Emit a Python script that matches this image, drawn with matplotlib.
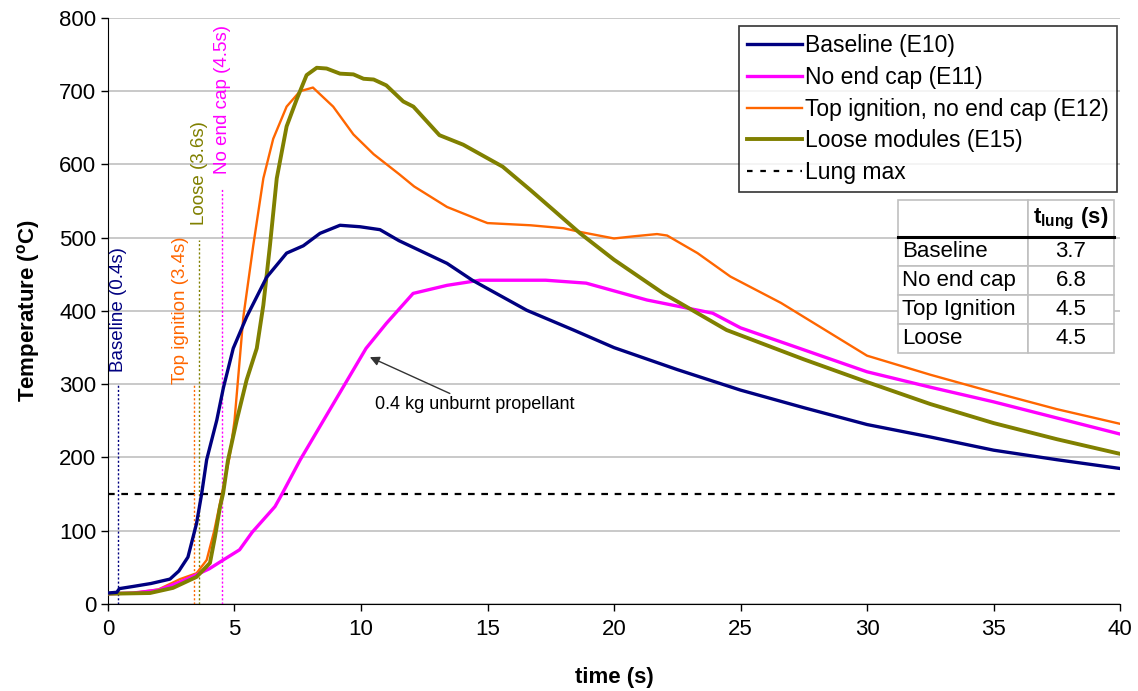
import matplotlib.pyplot as plt
import numpy as np

plt.rcParams['font.family'] = ['Liberation Sans', 'DejaVu Sans']
plt.rcParams['mathtext.fontset'] = 'custom'
plt.rcParams['mathtext.rm'] = 'Liberation Sans'
plt.rcParams['mathtext.bf'] = 'Liberation Sans:bold'

# ---------- data (time in s, temperature in degC) ----------
t_base = [0, 0.35, 0.45, 1.0, 1.7, 2.45, 2.8, 3.16, 3.5, 3.7, 3.9, 4.3, 4.56, 4.95, 5.48, 6.27,
          7.06, 7.72, 8.38, 9.17, 9.96, 10.75, 11.5, 13.4, 14.4, 16.55, 18.4, 20, 22.5, 25,
          27.5, 30, 32.5, 35, 37.5, 40]
T_base = [15, 16, 21, 24, 28, 34, 45, 64, 110, 150, 197, 251, 295, 349, 392, 446,
          479, 489, 506, 517, 515, 511, 496, 465, 442, 401, 374, 350, 320, 292,
          268, 245, 228, 210, 197, 185]

t_noend = [0, 1.0, 2.0, 2.85, 3.5, 4.0, 4.55, 5.2, 5.7, 6.6, 6.86, 7.6, 8.9, 10.2, 11.0, 12.06,
           13.4, 14.7, 17.3, 18.9, 21.3, 23.9, 25, 27.5, 30, 32.5, 35, 37.5, 40]
T_noend = [14, 15, 19, 30, 40, 48, 60, 74, 98, 133, 149, 197, 273, 349, 383, 424,
           435, 442, 442, 438, 415, 397, 377, 347, 317, 296, 276, 254, 232]

t_top = [0, 1.0, 2.0, 2.85, 3.5, 3.9, 4.2, 4.5, 4.8, 5.0, 5.35, 5.74, 6.14, 6.53, 7.06, 7.59,
         8.1, 8.9, 9.7, 10.5, 11.5, 12.1, 13.4, 14.7, 15.0, 16.7, 18.0, 18.65, 20.0, 20.8,
         21.7, 22.1, 23.3, 24.6, 26.6, 30, 32.5, 35, 37.5, 40]
T_top = [14, 15, 20, 34, 42, 60, 100, 150, 200, 250, 392, 489, 581, 635, 679, 700,
         705, 679, 641, 614, 587, 570, 542, 524, 520, 517, 513, 508, 499, 502,
         505, 503, 479, 447, 411, 339, 313, 289, 266, 246]

t_loose = [0, 1.66, 2.57, 3.5, 4.03, 4.23, 4.43, 4.55, 4.74, 5.09, 5.48, 5.88, 6.14, 6.4, 6.67,
           7.06, 7.46, 7.85, 8.25, 8.64, 9.17, 9.7, 10.1, 10.5, 11.0, 11.67, 12.07, 13.1, 14.04,
           15.6, 16.7, 17.6, 18.66, 20.0, 21.95, 23.3, 24.45, 27.5, 30, 32.5, 35, 37.5, 40]
T_loose = [14, 15, 22, 37, 56, 92, 133, 151, 196, 251, 306, 349, 408, 489, 581,
           652, 689, 722, 732, 731, 724, 723, 717, 716, 708, 686, 679, 640, 627,
           597, 565, 538, 506, 470, 424, 397, 374, 334, 303, 273, 247, 225, 205]

lung_max = 150

# onset markers: time, label, line height, text x, text bottom
onset_t = [0.4, 3.4, 3.6, 4.5]
onset_lbl = ['Baseline (0.4s)', 'Top ignition (3.4s)', 'Loose (3.6s)', 'No end cap (4.5s)']
onset_top = [300, 300, 497, 568]
onset_tx = [0.41, 2.85, 3.6, 4.53]
onset_ty = [317, 300, 517, 587]

tbl_rows = ['Baseline', 'No end cap', 'Top Ignition', 'Loose']
tbl_vals = ['3.7', '6.8', '4.5', '4.5']

navy, magenta, orange, olive = '#000080', '#FF00FF', '#FF6600', '#808000'
onset_col = [navy, orange, olive, magenta]

fig = plt.figure(figsize=(11.38, 6.91), dpi=100)
ax = fig.add_axes([0.0949, 0.1259, 0.8893, 0.8481])

ax.plot(t_base, T_base, color=navy, lw=2.4, label='Baseline (E10)', zorder=5)
ax.plot(t_noend, T_noend, color=magenta, lw=2.4, label='No end cap (E11)', zorder=4)
ax.plot(t_top, T_top, color=orange, lw=1.7, label='Top ignition, no end cap (E12)', zorder=3)
ax.plot(t_loose, T_loose, color=olive, lw=2.8, label='Loose modules (E15)', zorder=4)
ax.plot([0, 40], [lung_max, lung_max], color='black', lw=1.6, ls=(0, (3, 3)), label='Lung max')

for t, lbl, top, tx, ty, c in zip(onset_t, onset_lbl, onset_top, onset_tx, onset_ty, onset_col):
    ax.plot([t, t], [0, top], color=c, lw=1.0, ls=(0, (1.5, 1.5)), zorder=2)
    ax.text(tx, ty, lbl, color=c, rotation=90, ha='center', va='bottom', fontsize=13.5)

ax.annotate('0.4 kg unburnt propellant', xy=(10.35, 337), xytext=(10.55, 272),
            fontsize=13, va='center', ha='left',
            arrowprops=dict(arrowstyle='-|>', color='#333333', lw=1, shrinkA=0, shrinkB=0,
                            mutation_scale=14))

ax.set_xlim(0, 40)
ax.set_ylim(0, 800)
ax.set_xticks(np.arange(0, 41, 5))
ax.set_yticks(np.arange(0, 801, 100))
ax.tick_params(labelsize=16, length=5, width=1, direction='out')
ax.tick_params(axis='x', pad=6)
ax.grid(axis='y', color='#c0c0c0', lw=1.2)
ax.set_axisbelow(True)
for s in ['top', 'right']:
    ax.spines[s].set_visible(False)
ax.set_xlabel('time (s)', fontsize=16, fontweight='bold', labelpad=19)
ax.set_ylabel(r'Temperature ($^{\mathbf{o}}$C)', fontsize=16, fontweight='bold', labelpad=12)

leg = ax.legend(loc='upper right', bbox_to_anchor=(0.997, 0.986), borderaxespad=0,
                fontsize=16.5, frameon=True, fancybox=False, edgecolor='black',
                handlelength=2.4, handletextpad=0.15, labelspacing=0.38, borderpad=0.35)
leg.get_frame().set_linewidth(1.2)
leg.get_lines()[4].set_linestyle((0, (2.5, 3.5)))

# t_lung summary table
cells = [[r, v] for r, v in zip(tbl_rows, tbl_vals)]
tbl = ax.table(cellText=cells, colLabels=['', r'$\mathbf{t_{lung}}$ (s)'],
               colWidths=[0.6, 0.4], bbox=[0.781, 0.428, 0.213, 0.261], zorder=6)
tbl.auto_set_font_size(False)
for (r, c), cell in tbl.get_celld().items():
    cell.set_edgecolor('#c0c0c0')
    cell.set_facecolor('white')
    cell.set_linewidth(1.2)
    cell.get_text().set_fontsize(16)
    if r == 0:
        cell.set_height(37)
        cell.get_text().set_fontweight('bold')
        cell.get_text().set_ha('center')
    else:
        cell.set_height(29)
        cell.get_text().set_ha('left' if c == 0 else 'center')
    if c == 0:
        cell.PAD = 0.03
ax.plot([0.781, 0.994], [0.626, 0.626], color='black', lw=2.2, transform=ax.transAxes,
        clip_on=False, zorder=7)

fig.savefig('out.png', dpi=100)
